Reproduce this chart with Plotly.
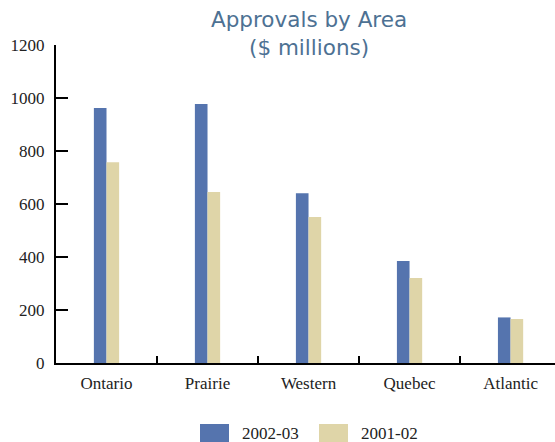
import plotly.graph_objects as go

# Approvals by region, $ millions
areas = ["Ontario", "Prairie", "Western", "Quebec", "Atlantic"]
series_names = ["2002-03", "2001-02"]
approvals_2002_03 = [962, 977, 641, 385, 172]
approvals_2001_02 = [758, 645, 551, 321, 166]

y_ticks = [0, 200, 400, 600, 800, 1000, 1200]

BLUE = "#5574AE"
TAN = "#DFD5A8"
SERIF = "Liberation Serif, Times New Roman, serif"
INK = "#222222"

# plot-area pixel geometry (used to place the title and legend)
W, H = 555, 442
L, R, T, B = 56, 0, 45, 79
PW, PH = W - L - R, H - T - B


def px_x(x):
    return (x - L) / PW


def px_y(y):
    return (H - B - y) / PH


fig = go.Figure()
for name, vals, col in zip(series_names, [approvals_2002_03, approvals_2001_02], [BLUE, TAN]):
    fig.add_trace(go.Bar(name=name, x=areas, y=vals,
                         marker=dict(color=col, line=dict(width=0)),
                         showlegend=False))

# legend: wide swatches with labels beneath the chart
legend_x = [200, 319]
for name, col, x0 in zip(series_names, [BLUE, TAN], legend_x):
    fig.add_shape(type="rect", xref="paper", yref="paper",
                  x0=px_x(x0), x1=px_x(x0 + 29), y0=px_y(442), y1=px_y(424),
                  fillcolor=col, line=dict(width=0))
    fig.add_annotation(text=name, xref="paper", yref="paper",
                       x=px_x(x0 + 40), y=px_y(433), xanchor="left", yanchor="middle",
                       showarrow=False, font=dict(family=SERIF, size=17, color=INK))

fig.add_annotation(
    text="Approvals by Area<br>($ millions)",
    xref="paper", yref="paper", x=px_x(309), y=px_y(33),
    xanchor="center", yanchor="middle", showarrow=False,
    font=dict(family="DejaVu Sans, Open Sans, sans-serif", size=21.5, color="#4D7193"),
)

fig.update_layout(
    width=W, height=H,
    margin=dict(l=L, r=R, t=T, b=B),
    paper_bgcolor="white", plot_bgcolor="white",
    barmode="group", bargap=0.75, bargroupgap=0,
    font=dict(family=SERIF, size=17, color=INK),
    showlegend=False,
    xaxis=dict(
        range=[-0.5, 4.44], showgrid=False, zeroline=False,
        showline=True, linecolor="black", linewidth=2,
        ticks="inside", tickson="boundaries", ticklen=7, tickwidth=2,
        tickcolor="black", tickfont=dict(family=SERIF, size=17, color=INK),
        ticklabelstandoff=4,
    ),
    yaxis=dict(
        range=[0, 1200], tickvals=y_ticks, showgrid=False, zeroline=False,
        showline=True, linecolor="black", linewidth=2,
        ticks="inside", ticklen=12, tickwidth=2, tickcolor="black",
        tickfont=dict(family=SERIF, size=17, color=INK), ticklabelstandoff=6,
    ),
)

fig.write_html("out.html")
